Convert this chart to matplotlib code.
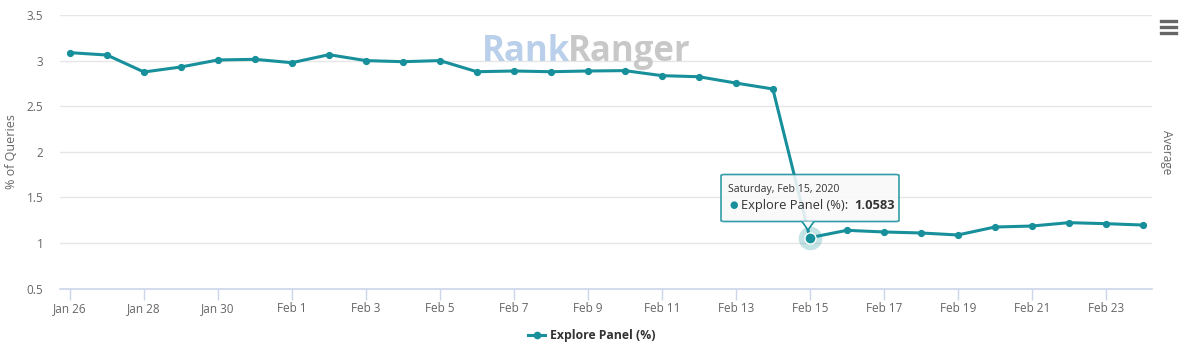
import matplotlib.pyplot as plt
import matplotlib.patches as mpatches
import numpy as np
import pandas as pd

plt.rcParams['font.family'] = ['Open Sans', 'DejaVu Sans']

# data
dates = pd.date_range('2020-01-26', '2020-02-24', freq='D')
explore_panel = [3.087, 3.061, 2.875, 2.930, 3.007, 3.014, 2.977, 3.065, 3.000, 2.988,
                 3.000, 2.878, 2.886, 2.878, 2.886, 2.890, 2.835, 2.823, 2.754, 2.689,
                 1.0583, 1.139, 1.121, 1.110, 1.088, 1.175, 1.186, 1.223, 1.212, 1.197]
tick_dates = pd.date_range('2020-01-26', '2020-02-23', freq='2D')
tick_labels = [f"{d.strftime('%b')} {d.day}" for d in tick_dates]
series_name = 'Explore Panel (%)'
hover_idx = 20

teal = '#17909b'
grey = '#666666'
axis_blue = '#ccd6eb'

W, H = 1185, 353
fig = plt.figure(figsize=(W / 100, H / 100), dpi=100)
ax = fig.add_axes([60 / W, 1 - 288.6 / H, (1152 - 60) / W, (288.6 - 15) / H])

x = np.arange(len(dates))
ax.plot(x, explore_panel, color=teal, lw=2.2, marker='o', ms=4.2, zorder=3,
        solid_joinstyle='round')

# hovered point halo
ax.plot(x[hover_idx], explore_panel[hover_idx], 'o', ms=17, color=teal, alpha=0.25,
        mec='none', zorder=4)
ax.plot(x[hover_idx], explore_panel[hover_idx], 'o', ms=8, color=teal, mec='white',
        mew=1, zorder=5)

ax.set_xlim(-0.27, 29.25)
ax.set_ylim(0.5, 3.5)
ax.set_yticks(np.arange(0.5, 3.51, 0.5))
ax.set_yticklabels(['0.5', '1', '1.5', '2', '2.5', '3', '3.5'])
tick_pos = [(d - dates[0]).days for d in tick_dates]
ax.set_xticks(tick_pos)
ax.set_xticklabels(tick_labels)

ax.grid(axis='y', color='#e6e6e6', lw=1)
ax.set_axisbelow(True)
for s in ['top', 'right', 'left']:
    ax.spines[s].set_visible(False)
ax.spines['bottom'].set_color(axis_blue)
ax.spines['bottom'].set_linewidth(1.2)
ax.tick_params(axis='x', colors=axis_blue, length=8, width=1, labelcolor=grey,
               labelsize=8.5, pad=2)
ax.tick_params(axis='y', length=0, labelcolor=grey, labelsize=8.5, pad=12)

ax.set_ylabel('% of Queries', color=grey, fontsize=9, labelpad=6)

# watermark
fig.text(482 / W, 1 - 52 / H, 'Rank', color='#b9cfea', fontsize=25, fontweight='bold',
         va='center', ha='left', zorder=1)
fig.text(568 / W, 1 - 52 / H, 'Ranger', color='#c8c8c8', fontsize=25, fontweight='bold',
         va='center', ha='left', zorder=1)

# right-side label and menu icon
fig.text(1166 / W, 1 - 152 / H, 'Average', rotation=270, color=grey, fontsize=8.5,
         va='center', ha='center')
for yy in [21, 27, 33]:
    fig.add_artist(plt.Line2D([1161 / W, 1176 / W], [1 - yy / H, 1 - yy / H],
                              color='#666666', lw=2.4))

# tooltip
bx0, by0, bx1, by1 = 721, 174.5, 899, 221.5
box = mpatches.FancyBboxPatch((bx0 / W, 1 - by1 / H), (bx1 - bx0) / W, (by1 - by0) / H,
                              boxstyle='round,pad=0,rounding_size=0.003',
                              transform=fig.transFigure, fc='#f9f9f9', ec=teal,
                              lw=1.2, alpha=0.88, zorder=10)
fig.add_artist(box)
pointer = mpatches.Polygon([[802 / W, 1 - 221.5 / H], [808 / W, 1 - 230 / H],
                            [814 / W, 1 - 221.5 / H]], closed=False,
                           transform=fig.transFigure, fc='#f9f9f9', ec=teal,
                           lw=1.2, zorder=10)
fig.add_artist(pointer)
fig.text(728 / W, 1 - 190 / H, 'Saturday, Feb 15, 2020', fontsize=7.6, color='#333333',
         va='center', zorder=11)
fig.text(729 / W, 1 - 205.5 / H, '\u25cf', fontsize=7, color=teal, va='center', zorder=11)
lbl = fig.text(741 / W, 1 - 205.5 / H, f'{series_name}:', fontsize=9.3, color='#333333',
               va='center', zorder=11)
fig.add_artist(plt.Annotation(f'{explore_panel[hover_idx]:.4f}', xy=(1, 0.5),
                              xycoords=lbl, xytext=(4, 0), textcoords='offset points',
                              fontsize=9.3, color='#333333', fontweight='bold',
                              va='center', ha='left', zorder=11))

# legend
fig.add_artist(plt.Line2D([528 / W, 545 / W], [1 - 335 / H, 1 - 335 / H], color=teal,
                          lw=2.2, zorder=5))
fig.add_artist(plt.Line2D([536.5 / W], [1 - 335 / H], color=teal, marker='o', ms=4.5,
                          zorder=6))
fig.text(550 / W, 1 - 335 / H, series_name, fontsize=8.8, fontweight='bold',
         color='#333333', va='center', ha='left')

fig.savefig('out.png', dpi=100)
